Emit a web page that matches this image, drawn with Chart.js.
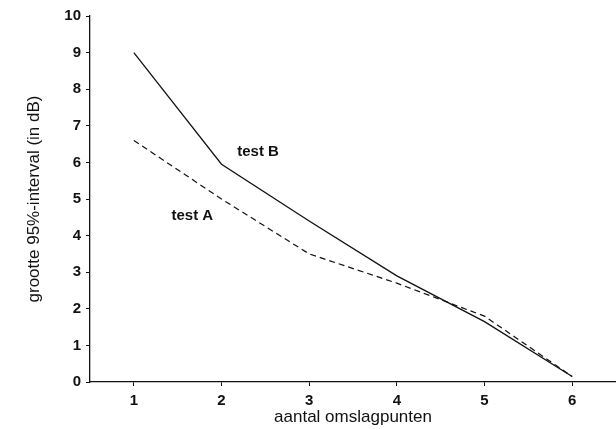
<!DOCTYPE html>
<html>
<head>
<meta charset="utf-8">
<script src="https://cdn.jsdelivr.net/npm/chart.js@4/dist/chart.umd.min.js"></script>
<style>
  html, body { margin: 0; padding: 0; background: #fff; }
  #wrap { width: 616px; height: 430px; }
</style>
</head>
<body>
<div id="wrap"><canvas id="chart"></canvas></div>
<script>
const omslagpunten = [1, 2, 3, 4, 5, 6];
const testB = [9.0, 5.95, 4.4, 2.9, 1.65, 0.15];
const testA = [6.6, 5.0, 3.5, 2.7, 1.8, 0.15];
const yTicks = [0, 1, 2, 3, 4, 5, 6, 7, 8, 9, 10];

const toPoints = (xs, ys) => xs.map((x, i) => ({ x: x, y: ys[i] }));

// labels next to the lines, placed in data units
const lineLabels = {
  id: 'lineLabels',
  afterDatasetsDraw(chart) {
    const { ctx, scales: { x, y } } = chart;
    ctx.save();
    ctx.fillStyle = '#111';
    ctx.font = 'bold 15px "Liberation Sans", Arial, sans-serif';
    ctx.textBaseline = 'middle';
    ctx.fillText('test B', x.getPixelForValue(2.18), y.getPixelForValue(6.3));
    ctx.fillText('test A', x.getPixelForValue(1.43), y.getPixelForValue(4.55));
    ctx.restore();
  }
};

new Chart(document.getElementById('chart'), {
  type: 'line',
  data: {
    datasets: [
      {
        label: 'test B',
        data: toPoints(omslagpunten, testB),
        borderColor: '#111',
        borderWidth: 1.3,
        pointRadius: 0,
        tension: 0
      },
      {
        label: 'test A',
        data: toPoints(omslagpunten, testA),
        borderColor: '#111',
        borderWidth: 1.2,
        borderDash: [6, 4],
        pointRadius: 0,
        tension: 0
      }
    ]
  },
  options: {
    responsive: true,
    maintainAspectRatio: false,
    animation: false,
    layout: { padding: { top: 16, right: 0, left: 0, bottom: 0 } },
    plugins: {
      legend: { display: false },
      tooltip: { enabled: false }
    },
    scales: {
      x: {
        type: 'linear',
        min: 0.5,
        max: 6.5,
        afterFit: (axis) => { axis.height = 48; },
        grid: {
          display: true,
          drawOnChartArea: false,
          drawTicks: true,
          tickLength: 4,
          color: '#111'
        },
        border: { display: true, color: '#111', width: 1.3 },
        afterBuildTicks: (axis) => { axis.ticks = omslagpunten.map(v => ({ value: v })); },
        ticks: {
          color: '#111',
          padding: 6,
          font: { family: '"Liberation Sans", Arial, sans-serif', size: 15, weight: 'bold' },
          callback: (v) => v
        },
        title: {
          display: true,
          text: 'aantal omslagpunten',
          color: '#111',
          padding: { top: 0, bottom: 2 },
          font: { family: '"Liberation Sans", Arial, sans-serif', size: 17 }
        }
      },
      y: {
        min: 0,
        max: 10,
        afterFit: (axis) => { axis.width = 90; },
        afterBuildTicks: (axis) => { axis.ticks = yTicks.map(v => ({ value: v })); },
        grid: {
          display: true,
          drawOnChartArea: false,
          drawTicks: true,
          tickLength: 4,
          color: '#111'
        },
        border: { display: true, color: '#111', width: 1.3 },
        ticks: {
          color: '#111',
          padding: 5,
          font: { family: '"Liberation Sans", Arial, sans-serif', size: 15, weight: 'bold' }
        },
        title: {
          display: true,
          text: 'grootte 95%-interval (in dB)',
          color: '#111',
          padding: { top: 24, bottom: 0 },
          font: { family: '"Liberation Sans", Arial, sans-serif', size: 17 }
        }
      }
    }
  },
  plugins: [lineLabels]
});
</script>
</body>
</html>
